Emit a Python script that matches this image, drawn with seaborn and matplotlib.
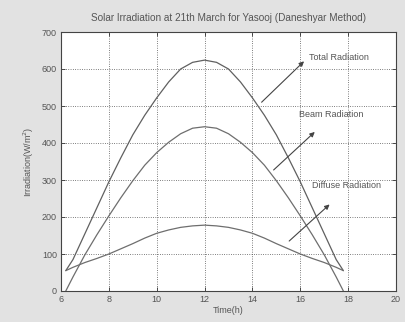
import matplotlib
matplotlib.use("Agg")
import matplotlib.pyplot as plt
import seaborn as sns
import pandas as pd

# ---- data ----
time_h = [6.2, 6.5, 7, 7.5, 8, 8.5, 9, 9.5, 10, 10.5, 11, 11.5, 12,
          12.5, 13, 13.5, 14, 14.5, 15, 15.5, 16, 16.5, 17, 17.5, 17.8]
total_rad = [55, 85, 155, 225, 295, 360, 422, 475, 522, 565, 600, 618, 624,
             618, 600, 565, 522, 475, 422, 360, 295, 225, 155, 85, 55]
beam_rad = [0, 38, 98, 152, 203, 252, 298, 340, 374, 402, 425, 440, 444,
            440, 425, 402, 374, 340, 298, 252, 203, 152, 98, 38, 0]
diffuse_rad = [55, 64, 77, 88, 100, 114, 128, 143, 156, 165, 172, 176, 178,
               176, 172, 165, 156, 143, 128, 114, 100, 88, 77, 64, 55]
series_names = ["Total Radiation", "Beam Radiation", "Diffuse Radiation"]
x_ticks = [6, 8, 10, 12, 14, 16, 18, 20]
y_ticks = [0, 100, 200, 300, 400, 500, 600, 700]

df = pd.concat([
    pd.DataFrame({"Time": time_h, "Irr": total_rad, "Series": series_names[0]}),
    pd.DataFrame({"Time": time_h, "Irr": beam_rad, "Series": series_names[1]}),
    pd.DataFrame({"Time": time_h, "Irr": diffuse_rad, "Series": series_names[2]}),
])

sns.set_theme(style="ticks")
plt.rcParams["font.family"] = ["Liberation Sans", "DejaVu Sans"]

fig = plt.figure(figsize=(4.05, 3.22), dpi=100)
fig.patch.set_facecolor("#e2e2e2")
ax = fig.add_axes([61 / 405, 1 - 291 / 322, 335 / 405, 259 / 322])
ax.set_facecolor("white")

sns.lineplot(data=df, x="Time", y="Irr", hue="Series",
             palette=["#606060", "#6e6e6e", "#6e6e6e"], linewidth=0.9,
             legend=False, ax=ax, sort=False)

ax.set_xlim(6, 20)
ax.set_ylim(0, 700)
ax.set_xticks(x_ticks)
ax.set_yticks(y_ticks)
ax.grid(True, color="#333333", linestyle=(0, (1, 2)), linewidth=0.55)
ax.tick_params(direction="in", length=3, width=0.6, labelsize=6.5,
               labelcolor="#555555", color="#333333", top=True, right=True,
               pad=3)
for s in ax.spines.values():
    s.set_color("#444444")
    s.set_linewidth(0.8)

ax.set_xlabel("Time(h)", fontsize=6.5, color="#555555", labelpad=1)
ax.set_ylabel("Irradiation(W/m$^2$)", fontsize=6.5, color="#555555", labelpad=4)
ax.set_title("Solar Irradiation at 21th March for Yasooj (Daneshyar Method)",
             fontsize=7.2, color="#555555", pad=8)

arrow = dict(arrowstyle="-|>", color="#444444", lw=0.8, mutation_scale=7)
ax.annotate("", xy=(16.24, 626), xytext=(14.3, 505), arrowprops=arrow)
ax.text(16.35, 630, series_names[0], fontsize=6.5, color="#555555", va="center")
ax.annotate("", xy=(16.69, 435), xytext=(14.8, 322), arrowprops=arrow)
ax.text(15.93, 476, series_names[1], fontsize=6.5, color="#555555", va="center")
ax.annotate("", xy=(17.31, 239), xytext=(15.45, 130), arrowprops=arrow)
ax.text(16.48, 285, series_names[2], fontsize=6.5, color="#555555", va="center")

fig.savefig("out.png", dpi=100, facecolor=fig.get_facecolor())
